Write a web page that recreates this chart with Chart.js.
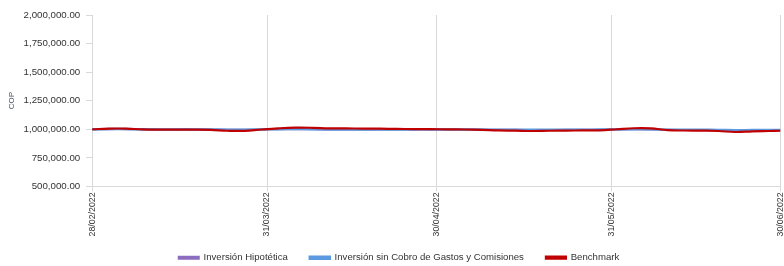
<!DOCTYPE html>
<html>
<head>
<meta charset="utf-8">
<script src="https://cdn.jsdelivr.net/npm/chart.js@4"></script>
<style>
  html, body { margin: 0; padding: 0; background: #fff; overflow: hidden; }
  #wrap { width: 792px; height: 266px; }
</style>
</head>
<body>
<div id="wrap"><canvas id="chart"></canvas></div>
<script>
// Days counted from 28/02/2022
const days = [0, 3, 6, 9, 12, 15, 18, 21, 24, 27, 30, 33, 36, 39, 42, 45, 48, 51, 54, 57, 60,
  63, 66, 69, 72, 75, 78, 81, 84, 87, 90, 93, 96, 99, 102, 105, 108, 111, 114, 117, 120, 122];

const inversionHipotetica = [999000, 1001000, 1001000, 999000, 998000, 998000, 998000, 997000, 995000, 995000,
  998000, 1000000, 1001000, 1000000, 998000, 998000, 998000, 998000, 998000, 998000, 998000,
  997000, 997000, 996000, 995000, 995000, 994000, 994000, 995000, 995000, 996000, 998000,
  1000000, 999000, 995000, 994000, 994000, 993000, 990000, 992000, 993000, 993000];

const inversionSinCobro = [1000000, 1002000, 1002000, 1000000, 999000, 999000, 999000, 998000, 996000, 996000,
  999000, 1001000, 1002000, 1001000, 999000, 999000, 999000, 999000, 999000, 999000, 999000,
  998000, 998000, 997000, 996000, 996000, 995000, 995000, 996000, 996000, 997000, 999000,
  1001000, 1000000, 996000, 995000, 995000, 994000, 991000, 993000, 994000, 994000];

const benchmark = [1000000, 1006000, 1006000, 999000, 997000, 997000, 997000, 995000, 987000, 986000,
  998000, 1008000, 1014000, 1013000, 1008000, 1007000, 1006000, 1005000, 1003000, 1002000, 1001000,
  999000, 998000, 995000, 990000, 988000, 985000, 987000, 988000, 990000, 991000, 1000000,
  1009000, 1008000, 992000, 989000, 988000, 985000, 976000, 982000, 985000, 987000];

const tickDays = [0, 31, 61, 92, 122];
const tickLabels = ["28/02/2022", "31/03/2022", "30/04/2022", "31/05/2022", "30/06/2022"];

const toPoints = values => values.map((v, i) => ({ x: days[i], y: v }));

const fontFamily = "'Liberation Sans', Arial, sans-serif";
const gridColor = "#d9d9d9";

new Chart(document.getElementById("chart"), {
  type: "line",
  data: {
    datasets: [
      {
        label: "Inversión Hipotética",
        data: toPoints(inversionHipotetica),
        borderColor: "#8c6cbf",
        backgroundColor: "#8c6cbf",
        borderWidth: 2,
        order: 2
      },
      {
        label: "Inversión sin Cobro de Gastos y Comisiones",
        data: toPoints(inversionSinCobro),
        borderColor: "#5b9ae0",
        backgroundColor: "#5b9ae0",
        borderWidth: 2.5,
        order: 1
      },
      {
        label: "Benchmark",
        data: toPoints(benchmark),
        borderColor: "#c00000",
        backgroundColor: "#c00000",
        borderWidth: 2.2,
        order: 0
      }
    ]
  },
  options: {
    responsive: true,
    maintainAspectRatio: false,
    animation: false,
    layout: { padding: { top: 15, left: 6, right: 0, bottom: -6.5 } },
    elements: { point: { radius: 0 }, line: { tension: 0.4 } },
    scales: {
      x: {
        type: "linear",
        min: 0,
        max: 122,
        afterBuildTicks: axis => { axis.ticks = tickDays.map(v => ({ value: v })); },
        // keep the box short and let the labels run into the legend's empty top padding
        afterFit: axis => {
          axis.height = 44.5;
          axis._computeLabelArea = () => null;
        },
        grid: { color: gridColor, tickLength: 5 },
        border: { color: gridColor },
        ticks: {
          autoSkip: false,
          minRotation: 90,
          maxRotation: 90,
          padding: 1,
          color: "#333",
          font: { family: fontFamily, size: 8.8 },
          callback: value => tickLabels[tickDays.indexOf(value)]
        }
      },
      y: {
        min: 500000,
        max: 2000000,
        grid: { drawOnChartArea: false, color: gridColor, tickLength: 6 },
        border: { color: gridColor },
        ticks: {
          stepSize: 250000,
          padding: 6,
          color: "#333",
          font: { family: fontFamily, size: 9.7 },
          callback: value => value.toLocaleString("en-US", { minimumFractionDigits: 2, maximumFractionDigits: 2 })
        },
        title: {
          display: true,
          text: "COP",
          color: "#44546a",
          font: { family: fontFamily, size: 8 },
          padding: { top: 1, bottom: 1 }
        }
      }
    },
    plugins: {
      tooltip: { enabled: false },
      legend: {
        position: "bottom",
        labels: {
          boxWidth: 20,
          boxHeight: 2,
          padding: 22,
          color: "#333",
          font: { family: fontFamily, size: 9.6 },
          sort: (a, b) => a.datasetIndex - b.datasetIndex
        }
      }
    }
  }
});
</script>
</body>
</html>
